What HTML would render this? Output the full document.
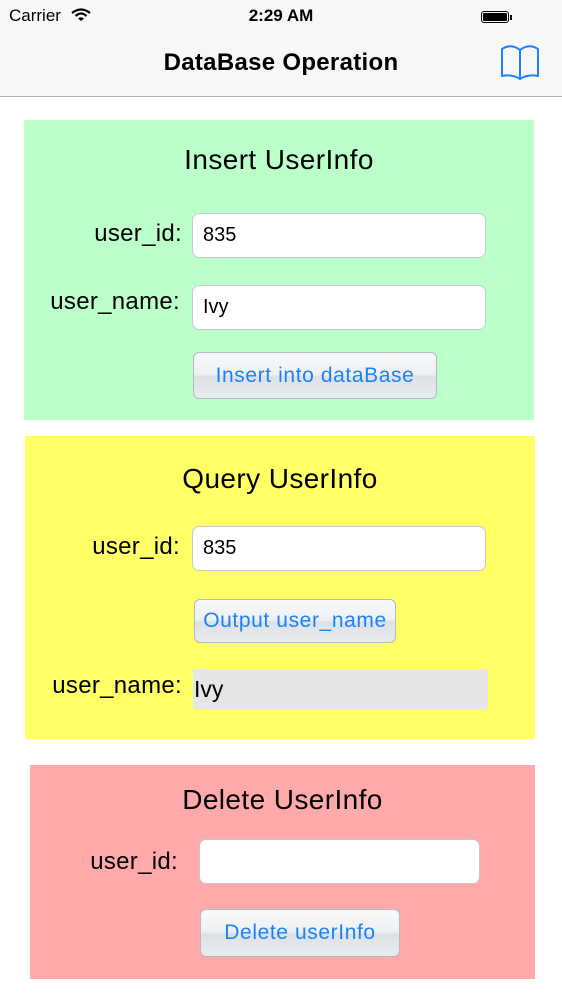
<!DOCTYPE html>
<html><head><style>
body{margin:0;width:562px;height:1000px;background:#fff;font-family:"Liberation Sans",sans-serif;position:relative;overflow:hidden}
.a{position:absolute}
.box{position:absolute}
.t{position:absolute;font-size:28px;letter-spacing:0.4px;color:#000;text-align:center;left:0;right:0}
.lab{position:absolute;font-size:24px;letter-spacing:0.3px;color:#000;text-align:right}
.fld{position:absolute;background:#fff;border:1px solid #c8c8c8;border-radius:7px;box-sizing:border-box;font-size:20px;padding-left:10px;display:flex;align-items:center}
.btn{position:absolute;box-sizing:border-box;border:1px solid #b4bac2;border-radius:6px;background:linear-gradient(#f7f8f9 0%,#eef0f2 48%,#dde1e5 52%,#e9ecef 100%);color:#1a82fb;font-size:21px;letter-spacing:0.6px;display:flex;align-items:center;justify-content:center;white-space:nowrap}
</style></head><body>
<div class="a" style="left:0;top:0;width:562px;height:96px;background:#f7f7f7;border-bottom:1px solid #b2b2b2"></div>
<div class="a" style="left:9px;top:6px;font-size:17px">Carrier</div>
<svg class="a" style="left:71px;top:8px" width="20" height="14" viewBox="0 0 20 14"><path d="M1 5 Q10 -2 19 5" stroke="#000" stroke-width="2.2" fill="none"/><path d="M4.5 8 Q10 3 15.5 8" stroke="#000" stroke-width="2.2" fill="none"/><path d="M10 13 L7 10.5 Q10 8 13 10.5Z" fill="#000"/></svg>
<div class="a" style="left:0;right:0;top:6px;text-align:center;font-size:17px;font-weight:bold">2:29 AM</div>
<div class="a" style="left:481px;top:11px;width:28px;height:12px;border:1px solid #000;border-radius:3px;box-sizing:border-box;padding:1px"><div style="background:#000;width:100%;height:100%;border-radius:1px"></div></div>
<div class="a" style="left:510px;top:15px;width:2px;height:5px;background:#000"></div>
<div class="a" style="left:0;right:0;top:49px;text-align:center;font-size:24px;letter-spacing:0.3px;font-weight:bold">DataBase Operation</div>
<svg class="a" style="left:500px;top:43px" width="40" height="38" viewBox="0 0 40 38"><path d="M20 36 Q12 31 2 33 L2 6 Q11 0 20 7 Q29 0 38 6 L38 33 Q28 31 20 36Z M20 7 L20 36" stroke="#1a82fb" stroke-width="2" fill="none" stroke-linejoin="round"/></svg>

<div class="box" style="left:24px;top:120px;width:510px;height:300px;background:#bbffca">
<div class="t" style="top:24px">Insert UserInfo</div>
</div>
<div class="lab" style="left:40px;width:142px;top:220px">user_id:</div>
<div class="fld" style="left:192px;top:213px;width:294px;height:45px">835</div>
<div class="lab" style="left:30px;width:150px;top:288px">user_name:</div>
<div class="fld" style="left:192px;top:285px;width:294px;height:45px">Ivy</div>
<div class="btn" style="left:193px;top:352px;width:244px;height:47px">Insert into dataBase</div>

<div class="box" style="left:25px;top:436px;width:510px;height:303px;background:#ffff66">
<div class="t" style="top:27px">Query UserInfo</div>
</div>
<div class="lab" style="left:40px;width:140px;top:533px">user_id:</div>
<div class="fld" style="left:192px;top:526px;width:294px;height:45px">835</div>
<div class="btn" style="left:194px;top:599px;width:202px;height:44px">Output user_name</div>
<div class="lab" style="left:30px;width:152px;top:672px">user_name:</div>
<div class="a" style="left:193px;top:669px;width:294px;height:40px;background:#e6e6e6;font-size:23px;line-height:40px;padding-left:1px">Ivy</div>

<div class="box" style="left:30px;top:765px;width:505px;height:214px;background:#ffa9aa">
<div class="t" style="top:19px">Delete UserInfo</div>
</div>
<div class="lab" style="left:40px;width:138px;top:848px">user_id:</div>
<div class="fld" style="left:199px;top:839px;width:281px;height:45px"></div>
<div class="btn" style="left:200px;top:909px;width:200px;height:48px">Delete userInfo</div>
</body></html>
